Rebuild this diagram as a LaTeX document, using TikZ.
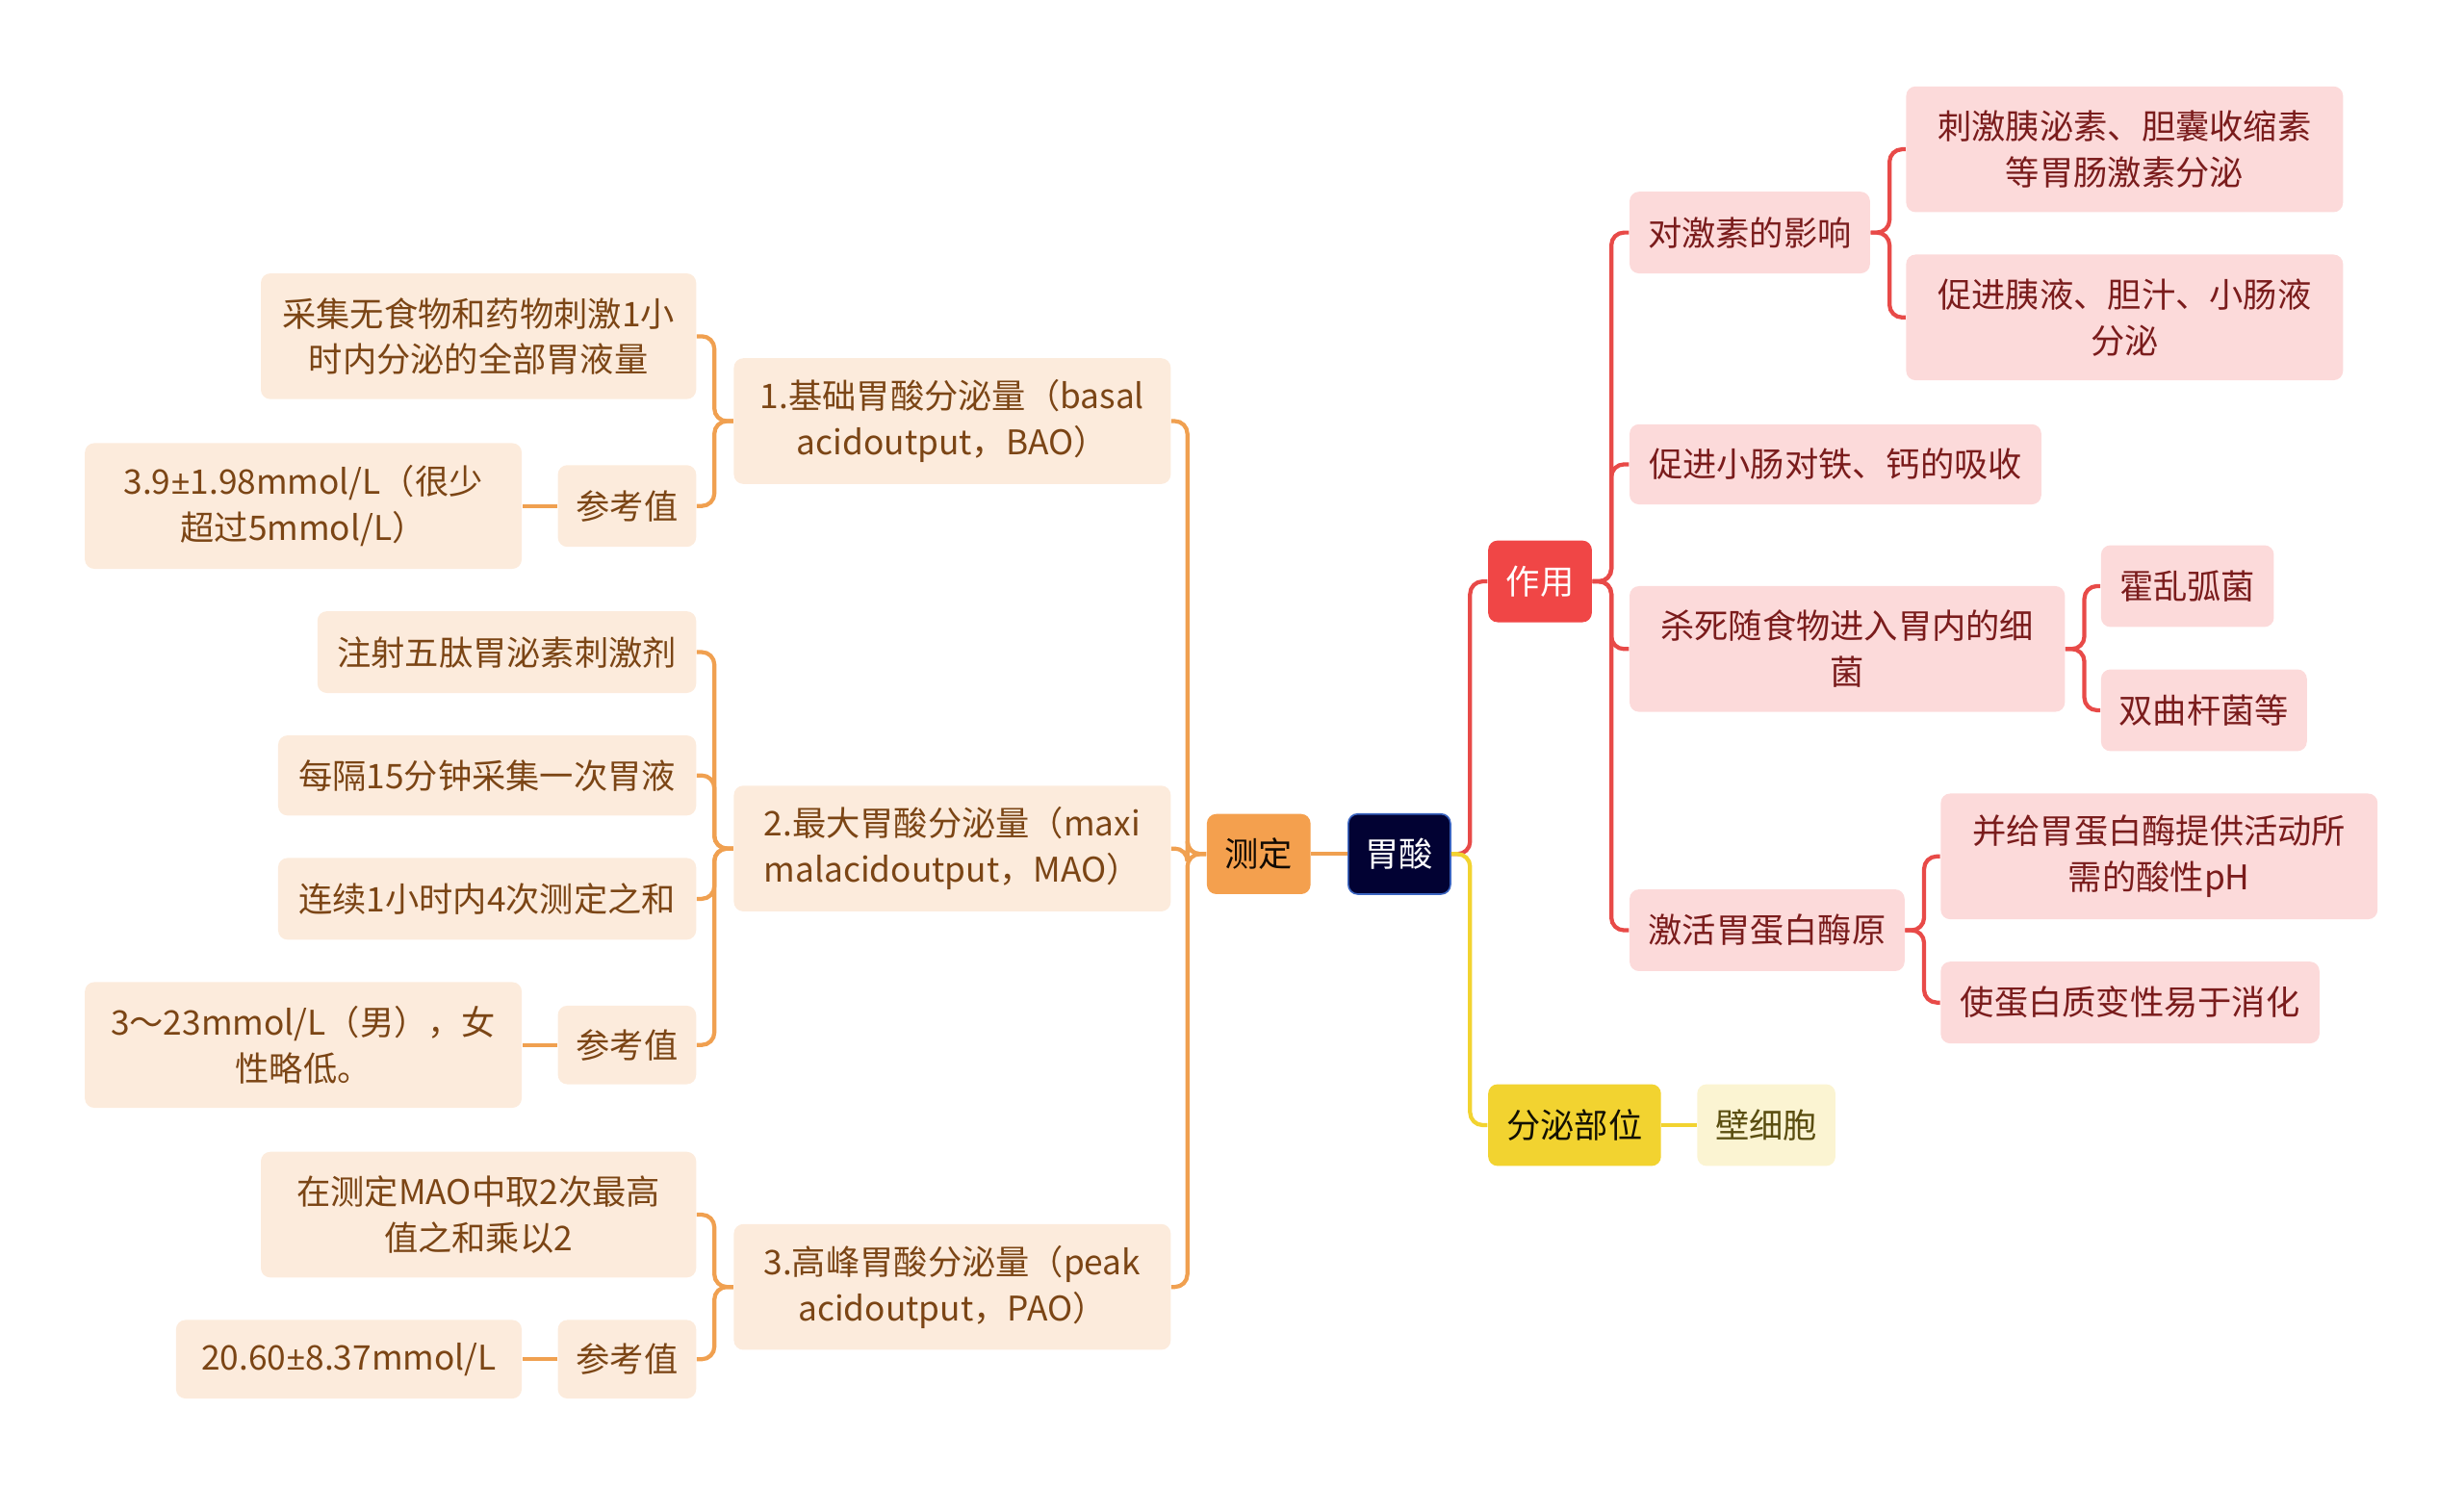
\documentclass[tikz,border=0pt]{standalone}
\usepackage{fontspec}
\setmainfont{Noto Sans CJK SC}
\newfontfamily\latinpm{Open Sans}
\newcommand{\pmn}{{\latinpm ±}}
\definecolor{navy}{HTML}{020233}
\definecolor{navyborder}{HTML}{3A64C0}
\definecolor{orangeM}{HTML}{F4A04E}
\definecolor{orangeL}{HTML}{FCEBDC}
\definecolor{orangeT}{HTML}{7B4515}
\definecolor{orangeLine}{HTML}{F0A050}
\definecolor{redM}{HTML}{F04646}
\definecolor{redL}{HTML}{FCDADA}
\definecolor{redT}{HTML}{7A1C1C}
\definecolor{redLine}{HTML}{E84A48}
\definecolor{yelM}{HTML}{F2D330}
\definecolor{yelL}{HTML}{FBF4D2}
\definecolor{yelT}{HTML}{5A4E10}
\definecolor{yelLine}{HTML}{F2D330}
\tikzset{
  box/.style={rounded corners=3pt, inner sep=0pt, align=center,
    font=\fontsize{10.8}{14.6}\selectfont},
  rootbox/.style={box, fill=navy, draw=navyborder, line width=0.5pt, text=white},
  obox/.style={box, fill=orangeM, text=black!85!orangeT},
  ochild/.style={box, fill=orangeL, text=orangeT},
  rbox/.style={box, fill=redM, text=white},
  rchild/.style={box, fill=redL, text=redT},
  ybox/.style={box, fill=yelM, text=black!80!yelT},
  ychild/.style={box, fill=yelL, text=yelT},
  conn/.style={line width=1.3pt, rounded corners=4pt},
  oline/.style={conn, draw=orangeLine},
  rline/.style={conn, draw=redLine},
  yline/.style={conn, draw=yelLine},
}
\newcommand{\bx}[6]{\node[#1, minimum width=#4, minimum height=#5] (#2) at (#3) {#6};}
\begin{document}
\begin{tikzpicture}[x=0.5pt, y=-0.5pt]
\useasboundingbox (0,0) rectangle (1568,946);
% root and main branches
\bx{rootbox}{gs}{890.5,543.5}{32.5pt}{25.5pt}{胃酸}
\bx{obox}{cd}{801,543.5}{33pt}{25.5pt}{测定}
\bx{rbox}{zy}{980,370}{33pt}{26pt}{作用}
\bx{ybox}{fm}{1002,716}{55pt}{26pt}{分泌部位}
\bx{ychild}{bxb}{1124,716}{44pt}{26pt}{壁细胞}
% right red branch
\bx{rchild}{r1}{1113.5,148}{76.5pt}{26pt}{对激素的影响}
\bx{rchild}{r11}{1352,95}{139pt}{40pt}{刺激胰泌素、胆囊收缩素\\等胃肠激素分泌}
\bx{rchild}{r12}{1352,202}{139pt}{40pt}{促进胰液、胆汁、小肠液\\分泌}
\bx{rchild}{r2}{1168,295.5}{131pt}{25.5pt}{促进小肠对铁、钙的吸收}
\bx{rchild}{r3}{1175.5,413}{138.5pt}{40pt}{杀死随食物进入胃内的细\\菌}
\bx{rchild}{r31}{1392,373}{55pt}{26pt}{霍乱弧菌}
\bx{rchild}{r32}{1402.5,452}{65.5pt}{26pt}{双曲杆菌等}
\bx{rchild}{r4}{1124.5,592}{87.5pt}{26pt}{激活胃蛋白酶原}
\bx{rchild}{r41}{1374,545}{139pt}{40pt}{并给胃蛋白酶提供活动所\\需的酸性pH}
\bx{rchild}{r42}{1355.5,638}{120.5pt}{26pt}{使蛋白质变性易于消化}
% left orange branch
\bx{ochild}{b1}{606,268}{139pt}{40pt}{1.基础胃酸分泌量（basal\\acidoutput，BAO）}
\bx{ochild}{b11}{304.5,214}{138.5pt}{40pt}{采集无食物和药物刺激1小\\时内分泌的全部胃液量}
\bx{ochild}{b12}{399,322}{44pt}{26pt}{参考值}
\bx{ochild}{b121}{193,322}{139pt}{40pt}{3.9\pmn 1.98mmol/L（很少\\超过5mmol/L）}
\bx{ochild}{b2}{606,540}{139pt}{40pt}{2.最大胃酸分泌量（maxi\\malacidoutput，MAO）}
\bx{ochild}{b21}{322.5,415}{120.5pt}{26pt}{注射五肽胃泌素刺激剂}
\bx{ochild}{b22}{310,493.5}{133pt}{25.5pt}{每隔15分钟采集一次胃液}
\bx{ochild}{b23}{310,572}{133pt}{26pt}{连续1小时内4次测定之和}
\bx{ochild}{b24}{399,665}{44pt}{25pt}{参考值}
\bx{ochild}{b241}{193,665}{139pt}{40pt}{3～23mmol/L（男），女\\性略低。}
\bx{ochild}{b3}{606,819}{139pt}{40pt}{3.高峰胃酸分泌量（peak\\acidoutput，PAO）}
\bx{ochild}{b31}{304.5,773}{138.5pt}{40pt}{在测定MAO中取2次最高\\值之和乘以2}
\bx{ochild}{b32}{399,865}{44pt}{25pt}{参考值}
\bx{ochild}{b321}{222,865}{110pt}{25pt}{20.60\pmn 8.37mmol/L}
% connectors
\draw[oline] (gs.west) -- (cd.east);
\draw[rline] (gs.east) -- ++(12,0) |- (zy.west);
\draw[yline] (gs.east) -- ++(12,0) |- (fm.west);
\draw[yline] (fm.east) -- (bxb.west);
\foreach \c in {r1,r2,r3,r4} \draw[rline] (zy.east) -- ++(12,0) |- (\c.west);
\foreach \c in {r11,r12} \draw[rline] (r1.east) -- ++(12,0) |- (\c.west);
\foreach \c in {r31,r32} \draw[rline] (r3.east) -- ++(12,0) |- (\c.west);
\foreach \c in {r41,r42} \draw[rline] (r4.east) -- ++(12,0) |- (\c.west);
\foreach \c in {b1,b2,b3} \draw[oline] (cd.west) -- ++(-12,0) |- (\c.east);
\foreach \c in {b11,b12} \draw[oline] (b1.west) -- ++(-12,0) |- (\c.east);
\foreach \c in {b21,b22,b23,b24} \draw[oline] (b2.west) -- ++(-12,0) |- (\c.east);
\foreach \c in {b31,b32} \draw[oline] (b3.west) -- ++(-12,0) |- (\c.east);
\draw[oline] (b12.west) -- (b121.east);
\draw[oline] (b24.west) -- (b241.east);
\draw[oline] (b32.west) -- (b321.east);
\end{tikzpicture}
\end{document}
